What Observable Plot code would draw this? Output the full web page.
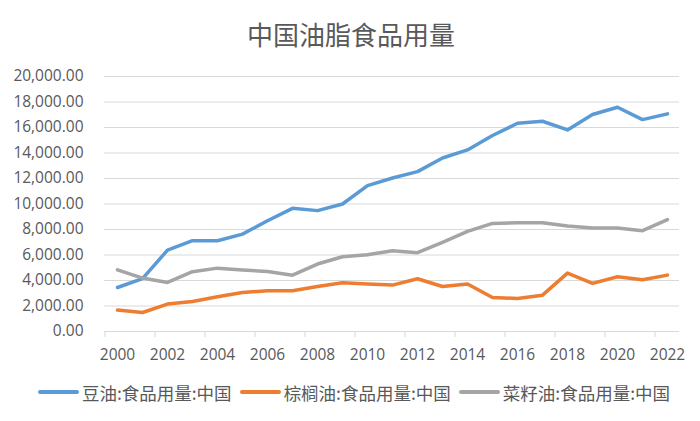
<!DOCTYPE html>
<html>
<head>
<meta charset="utf-8">
<script src="https://cdn.jsdelivr.net/npm/d3@7"></script>
<script src="https://cdn.jsdelivr.net/npm/@observablehq/plot@0.6"></script>
<style>
  body { margin: 0; background: #fff; }
  #wrap { width: 700px; height: 421px; position: relative; background: #fff; overflow: hidden; }
  #title { height: 60px; line-height: 68px; text-align: center; font-family: "Noto Sans CJK SC", sans-serif; font-size: 26px; color: #595959; padding-left: 2px; }
  #legend { height: 24px; display: flex; justify-content: center; align-items: center; font-family: "Noto Sans CJK SC", sans-serif; font-size: 17.5px; color: #595959; padding-left: 8px; }
  .item { display: flex; align-items: center; margin: 0 4px; }
  .sw { width: 41px; height: 4px; border-radius: 2px; margin-right: 3px; }
</style>
</head>
<body>
<div id="wrap">
  <div id="title"></div>
  <div id="chart"></div>
  <div id="legend"></div>
</div>
<script>
const title = "中国油脂食品用量";
const years = [2000, 2001, 2002, 2003, 2004, 2005, 2006, 2007, 2008, 2009, 2010, 2011,
               2012, 2013, 2014, 2015, 2016, 2017, 2018, 2019, 2020, 2021, 2022];
const seriesNames = ["豆油:食品用量:中国", "棕榈油:食品用量:中国", "菜籽油:食品用量:中国"];
const seriesColors = ["#5B9BD5", "#ED7D31", "#A5A5A5"];
const soybean = [3450, 4150, 6380, 7120, 7120, 7640, 8690, 9660, 9480, 10000, 11440, 12040,
                 12540, 13610, 14240, 15370, 16330, 16490, 15810, 17020, 17590, 16620, 17070];
const palm = [1680, 1490, 2150, 2360, 2720, 3060, 3190, 3190, 3530, 3820, 3720, 3640,
              4140, 3530, 3720, 2670, 2590, 2850, 4580, 3770, 4290, 4060, 4420];
const rapeseed = [4840, 4190, 3850, 4690, 4970, 4820, 4710, 4420, 5290, 5860, 6020, 6340,
                  6180, 6990, 7850, 8480, 8530, 8530, 8270, 8120, 8120, 7910, 8770];
const yTicks = [0, 2000, 4000, 6000, 8000, 10000, 12000, 14000, 16000, 18000, 20000];
const xTickYears = [2000, 2002, 2004, 2006, 2008, 2010, 2012, 2014, 2016, 2018, 2020, 2022];

const seriesValues = [soybean, palm, rapeseed];
const rows = [];
seriesNames.forEach((name, s) => {
  years.forEach((yr, i) => rows.push({ year: yr, value: seriesValues[s][i], series: name }));
});

document.getElementById("title").textContent = title;

const chart = Plot.plot({
  width: 700,
  height: 320,
  marginTop: 16,
  marginBottom: 49,
  marginLeft: 104,
  marginRight: 21,
  style: { fontFamily: "'Open Sans', sans-serif", fontSize: "15.5px", color: "#595959", background: "white", overflow: "visible" },
  x: { type: "point", domain: years, padding: 0.5, align: 0.5 },
  y: { domain: [0, 20000] },
  color: { domain: seriesNames, range: seriesColors },
  marks: [
    Plot.ruleY(yTicks, { y: d => d, stroke: "#d9d9d9", strokeWidth: 1 }),
    Plot.ruleX(xTickYears, { x: d => d, y1: 0, y2: 0, dx: -12.5, insetBottom: -6, stroke: "#d9d9d9", strokeWidth: 1 }),
    Plot.axisY({ ticks: yTicks, tickSize: 0, tickPadding: 21, tickFormat: d3.format(",.2f"), label: null, fill: "#595959" }),
    Plot.axisX({ ticks: xTickYears, tickSize: 0, tickPadding: 17, tickFormat: d => String(d), label: null, fill: "#595959" }),
    Plot.line(rows, { x: "year", y: "value", z: "series", stroke: "series", strokeWidth: 3.5, strokeLinejoin: "round", strokeLinecap: "round" })
  ]
});
document.getElementById("chart").appendChild(chart);

const legend = document.getElementById("legend");
seriesNames.forEach((name, i) => {
  const item = document.createElement("div");
  item.className = "item";
  const sw = document.createElement("div");
  sw.className = "sw";
  sw.style.background = seriesColors[i];
  const tx = document.createElement("span");
  tx.textContent = name;
  item.appendChild(sw);
  item.appendChild(tx);
  legend.appendChild(item);
});
</script>
</body>
</html>
